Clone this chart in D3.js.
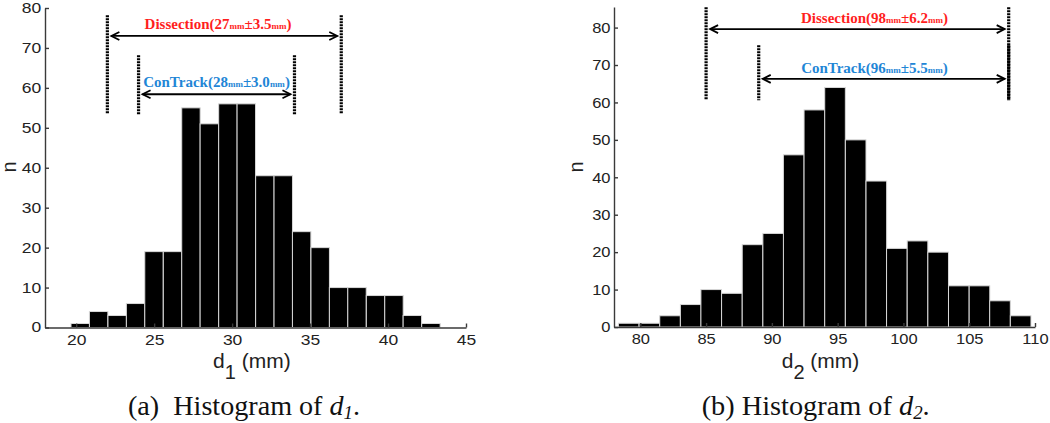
<!DOCTYPE html>
<html>
<head>
<meta charset="utf-8">
<script src="https://cdn.jsdelivr.net/npm/d3@7"></script>
<style>
body { margin: 0; background: #fff; }
svg { display: block; }
text { white-space: pre; }
</style>
</head>
<body>
<div id="chart"></div>
<script>
// histogram of d1 (mm): bin centres and counts
var d1Centers = [20.26, 21.44, 22.63, 23.81, 24.99, 26.18, 27.36, 28.54, 29.73, 30.91,
                 32.10, 33.28, 34.46, 35.65, 36.83, 38.01, 39.20, 40.38, 41.56, 42.75];
var d1Counts = [1, 4, 3, 6, 19, 19, 55, 51, 56, 56, 38, 38, 24, 20, 10, 10, 8, 8, 3, 1];
var d1BinWidth = 1.183;

// histogram of d2 (mm)
var d2Centers = [79.12, 80.69, 82.26, 83.83, 85.39, 86.96, 88.53, 90.10, 91.66, 93.23,
                 94.80, 96.37, 97.94, 99.50, 101.07, 102.64, 104.21, 105.78, 107.34, 108.91];
var d2Counts = [1, 1, 3, 6, 10, 9, 22, 25, 46, 58, 64, 50, 39, 21, 23, 20, 11, 11, 7, 3];
var d2BinWidth = 1.5675;

var d1Ticks = [20, 25, 30, 35, 40, 45];
var d2Ticks = [80, 85, 90, 95, 100, 105, 110];
var nTicks = [0, 10, 20, 30, 40, 50, 60, 70, 80];

// measured ranges shown as brackets: [from, to] and label [mean, sd]
var d1Dissection = [22, 37], d1DissectionText = ["27", "3.5"];
var d1ConTrack = [24, 34], d1ConTrackText = ["28", "3.0"];
var d2Dissection = [85, 108], d2DissectionText = ["98", "6.2"];
var d2ConTrack = [89, 108], d2ConTrackText = ["96", "5.5"];

var RED = "#ff1e1e", BLUE = "#1f86d6";

var svg = d3.select("#chart").append("svg")
    .attr("width", 1050)
    .attr("height", 423);

function drawHist(o) {
    var x = d3.scaleLinear().domain(o.xDomain).range([o.left, o.right]);
    var y = d3.scaleLinear().domain(o.yDomain).range([o.bottom, o.top]);
    var g = svg.append("g");

    g.selectAll("rect.bar")
        .data(o.centers)
        .enter().append("rect")
        .attr("class", "bar")
        .attr("x", function(d) { return x(d - o.binWidth / 2); })
        .attr("width", function(d) { return x(d + o.binWidth / 2) - x(d - o.binWidth / 2); })
        .attr("y", function(d, i) { return y(o.counts[i]); })
        .attr("height", function(d, i) { return y(0) - y(o.counts[i]); })
        .attr("fill", "#000")
        .attr("stroke", "#d8d8d8")
        .attr("stroke-width", 1);

    var xa = g.append("g")
        .attr("transform", "translate(0," + o.bottom + ")")
        .call(d3.axisBottom(x).tickValues(o.xTicks).tickSizeInner(-4).tickSizeOuter(0).tickPadding(o.xPad));
    var ya = g.append("g")
        .attr("transform", "translate(" + o.left + ",0)")
        .call(d3.axisLeft(y).tickValues(nTicks).tickSizeInner(-4).tickSizeOuter(0).tickPadding(o.yPad));

    [xa, ya].forEach(function(a) {
        a.selectAll(".domain, .tick line").attr("stroke", "#3a3a3a").attr("stroke-width", 1.4);
        a.selectAll(".tick text")
            .attr("font-family", "'Liberation Sans', Arial, sans-serif")
            .attr("font-size", o.tickFont)
            .attr("fill", "#222")
            .attr("transform", "scale(" + o.stretch + ",1)");
    });

    // y label
    g.append("text")
        .attr("transform", "translate(" + o.nX + ",167) rotate(-90)")
        .attr("text-anchor", "middle")
        .attr("font-family", "'Liberation Sans', Arial, sans-serif")
        .attr("font-size", 20)
        .attr("fill", "#222")
        .text("n");

    // x label with subscript
    var xl = g.append("text")
        .attr("x", o.labelX)
        .attr("y", 367.7)
        .attr("font-family", "'Liberation Sans', Arial, sans-serif")
        .attr("font-size", 21)
        .attr("fill", "#222");
    xl.append("tspan").text("d");
    xl.append("tspan").attr("font-size", 20).attr("dy", 11).text(o.sub);
    xl.append("tspan").attr("dy", -11).text(" (mm)");

    o.brackets.forEach(function(b) { drawBracket(g, x, y, b); });

    // caption
    var cap = svg.append("text")
        .attr("x", o.capX)
        .attr("y", 415)
        .attr("font-family", "'Liberation Serif', 'Times New Roman', serif")
        .attr("font-size", 27)
        .attr("fill", "#111")
        .attr("textLength", o.capW)
        .attr("lengthAdjust", "spacingAndGlyphs");
    cap.append("tspan").text(o.capText);
    cap.append("tspan").attr("font-style", "italic").text("d");
    cap.append("tspan").attr("font-style", "italic").attr("font-size", 18).attr("dy", 4).text(o.sub);
    cap.append("tspan").attr("dy", -4).text(".");
}

function drawBracket(g, x, y, b) {
    var x1 = x(b.span[0]), x2 = x(b.span[1]), ay = y(b.arrowN);
    [x1, x2].forEach(function(px) {
        g.append("line")
            .attr("x1", px).attr("x2", px)
            .attr("y1", y(b.topN)).attr("y2", y(b.bottomN))
            .attr("stroke", "#000")
            .attr("stroke-width", 3.2)
            .attr("stroke-dasharray", "2,1");
    });
    var a1 = x1 + 4, a2 = x2 - 4;
    g.append("line")
        .attr("x1", a1).attr("x2", a2)
        .attr("y1", ay).attr("y2", ay)
        .attr("stroke", "#000").attr("stroke-width", 1.8);
    g.append("path")
        .attr("d", "M" + (a1 + 8) + "," + (ay - 4) + "L" + a1 + "," + ay + "L" + (a1 + 8) + "," + (ay + 4) +
                   "M" + (a2 - 8) + "," + (ay - 4) + "L" + a2 + "," + ay + "L" + (a2 - 8) + "," + (ay + 4))
        .attr("fill", "none").attr("stroke", "#000").attr("stroke-width", 1.8);

    var t = g.append("text")
        .attr("x", x(b.labelAt))
        .attr("y", y(b.labelN))
        .attr("text-anchor", "middle")
        .attr("font-family", "'Liberation Serif', 'Times New Roman', serif")
        .attr("font-weight", "bold")
        .attr("font-size", 15)
        .attr("fill", b.color);
    t.append("tspan").text(b.name + "(" + b.text[0]);
    t.append("tspan").attr("font-size", 9).text("mm");
    t.append("tspan").text("\u00b1" + b.text[1]);
    t.append("tspan").attr("font-size", 9).text("mm");
    t.append("tspan").text(")");
}

drawHist({
    centers: d1Centers, counts: d1Counts, binWidth: d1BinWidth,
    xDomain: [18, 45], yDomain: [0, 80], xTicks: d1Ticks,
    left: 45, right: 466, top: 8, bottom: 327.5,
    xPad: 8, yPad: 3, tickFont: 14, stretch: 1.25,
    nX: 16, labelX: 213, sub: "1",
    capX: 128, capW: 232, capText: "(a)  Histogram of ",
    brackets: [
        {name: "Dissection", span: d1Dissection, text: d1DissectionText, color: RED,
         topN: 78.2, bottomN: 53.4, arrowN: 73, labelAt: 29.1, labelN: 74.7},
        {name: "ConTrack", span: d1ConTrack, text: d1ConTrackText, color: BLUE,
         topN: 68.2, bottomN: 53.4, arrowN: 58.4, labelAt: 29.0, labelN: 60.2}
    ]
});

drawHist({
    centers: d2Centers, counts: d2Counts, binWidth: d2BinWidth,
    xDomain: [78, 110], yDomain: [0, 85.5], xTicks: d2Ticks,
    left: 614, right: 1035, top: 7, bottom: 327,
    xPad: 6, yPad: 3.2, tickFont: 15, stretch: 1.1,
    nX: 582.7, labelX: 781.7, sub: "2",
    capX: 701.7, capW: 228, capText: "(b) Histogram of ",
    brackets: [
        {name: "Dissection", span: d2Dissection, text: d2DissectionText, color: RED,
         topN: 85.4, bottomN: 60.6, arrowN: 79.6, labelAt: 97.8, labelN: 81.3},
        {name: "ConTrack", span: d2ConTrack, text: d2ConTrackText, color: BLUE,
         topN: 75.3, bottomN: 60.6, arrowN: 66.3, labelAt: 97.8, labelN: 67.9}
    ]
});
</script>
</body>
</html>
